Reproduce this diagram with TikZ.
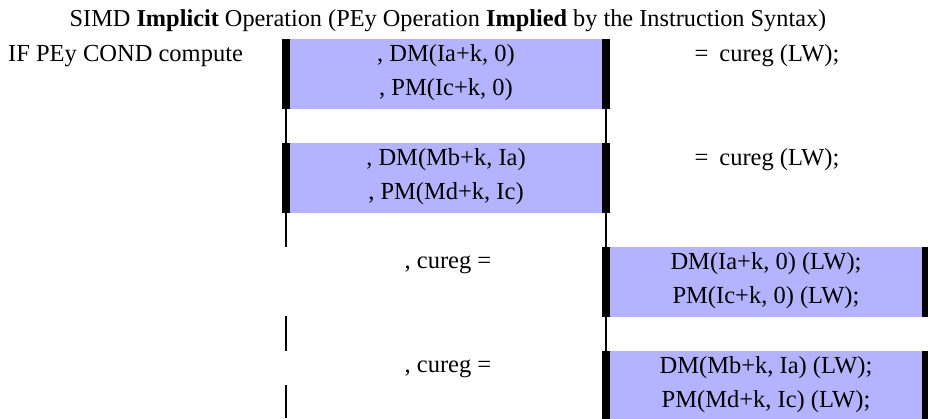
\documentclass[tikz,border=0pt]{standalone}
\usepackage{fontspec}
\setmainfont{Liberation Serif}
\definecolor{boxblue}{RGB}{179,179,255}
\begin{document}
\begin{tikzpicture}[x=1pt,y=-1pt,
  panel/.style={fill=boxblue, draw=none, minimum width=328pt, minimum height=70pt, inner sep=0pt, outer sep=0pt, anchor=north west},
  bar/.style={fill=black},
  guide/.style={line width=2.2pt},
  txt/.style={font=\fontsize{24.5}{30}\selectfont, anchor=base, inner sep=0pt},
  ttl/.style={font=\fontsize{24.3}{30}\selectfont, anchor=base, inner sep=0pt}]
\useasboundingbox (0,0) rectangle (928,418);
\clip (0,0) rectangle (928,418);
% panels
\node[panel] (b1) at (282,39) {};
\node[panel] (b2) at (282,143) {};
\node[panel] (b3) at (602,247) {};
\node[panel] (b4) at (602,351) {};
\foreach \b in {b1,b2,b3,b4}{
  \fill[bar] (\b.north west) rectangle ++(8,70);
  \fill[bar] (\b.north east) rectangle ++(-8,70);
}
% guide lines
\coordinate (l2e) at (286,247);
\coordinate (l3a) at (286,316);
\coordinate (l3b) at (286,351);
\coordinate (l4a) at (286,385);
\coordinate (l4b) at (286,418);
\draw[guide] ([xshift=4pt]b1.south west) -- ([xshift=4pt]b2.north west);
\draw[guide] ([xshift=-4pt]b1.south east) -- ([xshift=-4pt]b2.north east);
\draw[guide] ([xshift=4pt]b2.south west) -- (l2e);
\draw[guide] ([xshift=-4pt]b2.south east) -- ([xshift=4pt]b3.north west);
\draw[guide] (l3a) -- (l3b);
\draw[guide] (l4a) -- (l4b);
\draw[guide] ([xshift=4pt]b3.south west) -- ([xshift=4pt]b4.north west);
% texts
\node[ttl] (title) at (448,26) {SIMD \textbf{Implicit} Operation (PEy Operation \textbf{Implied} by the Instruction Syntax)};
\node[txt, anchor=base west] (cond) at (8,61) {IF PEy COND compute};
\node[txt] (t1a) at (446,61) {, DM(Ia+k, 0)};
\node[txt] (t1b) at (446,95) {, PM(Ic+k, 0)};
\node[txt] (r1) at (767,61) {=\hspace{0.45em}cureg (LW);};
\node[txt] (t2a) at (446,165) {, DM(Mb+k, Ia)};
\node[txt] (t2b) at (446,199) {, PM(Md+k, Ic)};
\node[txt] (r2) at (767,165) {=\hspace{0.45em}cureg (LW);};
\node[txt] (c3) at (448,268) {, cureg =};
\node[txt] (t3a) at (766,269) {DM(Ia+k, 0) (LW);};
\node[txt] (t3b) at (766,303) {PM(Ic+k, 0) (LW);};
\node[txt] (c4) at (448,372) {, cureg =};
\node[txt] (t4a) at (766,373) {DM(Mb+k, Ia) (LW);};
\node[txt] (t4b) at (766,407) {PM(Md+k, Ic) (LW);};
\end{tikzpicture}
\end{document}
